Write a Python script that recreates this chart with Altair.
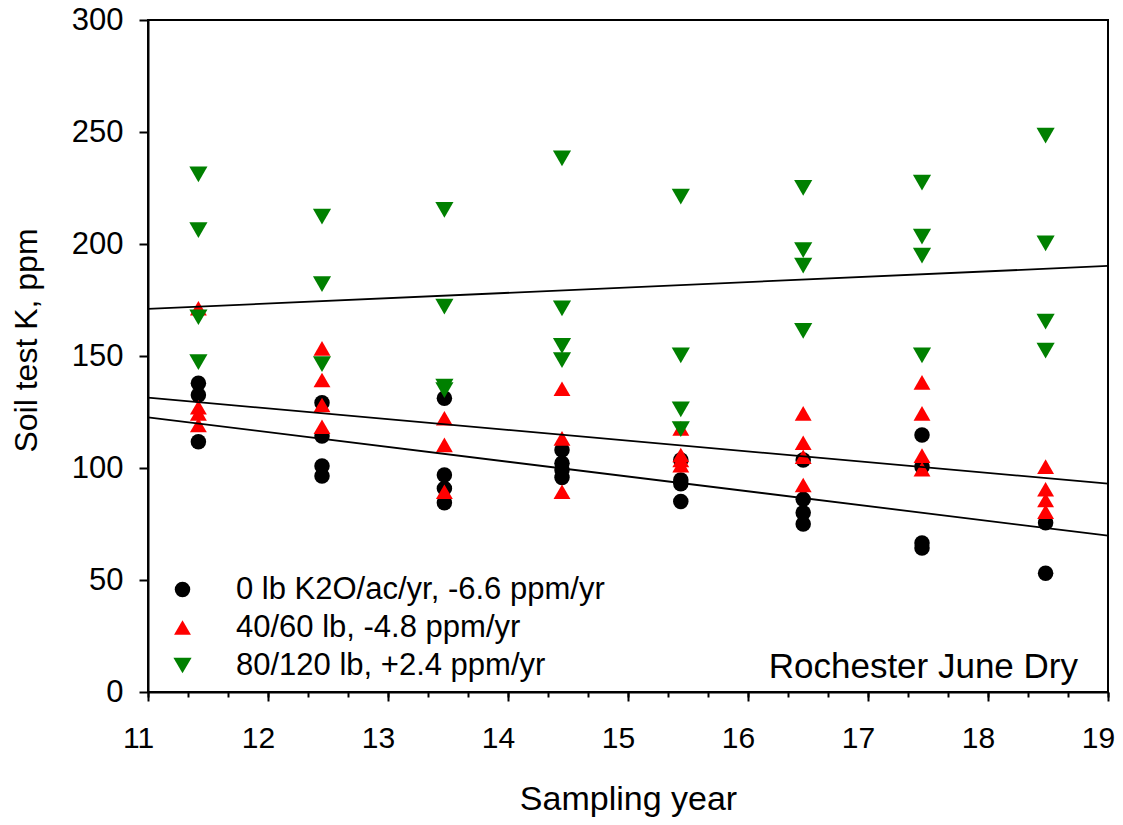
import altair as alt
import pandas as pd

FONT = "Liberation Sans"

# Sampling years (column positions on the x axis)
years = [11.42, 12.45, 13.47, 14.45, 15.44, 16.46, 17.45, 18.48]

# Soil test K (ppm) per plot, one inner list per sampling year
k_0lb = [
    [137.8, 132.6, 111.7],
    [129.1, 114.3, 100.9, 96.4],
    [131.1, 96.9, 90.9, 84.5],
    [108.0, 102.1, 99.1, 95.8],
    [103.6, 94.6, 93.0, 85.0],
    [103.6, 86.0, 80.0, 75.0],
    [114.7, 100.6, 66.5, 64.3],
    [75.6, 53.0],
]
k_40lb = [
    [171.3, 127.1, 124.4, 119.2],
    [153.4, 139.3, 128.1, 118.4],
    [122.2, 110.3, 89.4],
    [135.4, 113.2, 89.4],
    [117.7, 105.8, 103.6, 101.3],
    [124.4, 111.3, 105.0, 92.4],
    [138.2, 124.4, 105.5, 99.5],
    [100.6, 90.5, 85.7, 80.5],
]
k_80lb = [
    [231.1, 206.2, 167.3, 147.3],
    [212.2, 182.1, 146.4],
    [215.2, 172.0, 136.3, 134.8],
    [238.2, 171.3, 154.5, 148.2],
    [221.1, 150.3, 126.2, 117.4],
    [225.1, 197.3, 190.3, 161.2],
    [227.4, 203.3, 194.8, 150.3],
    [248.4, 200.3, 165.3, 152.4],
]

labels = ["0 lb K2O/ac/yr, -6.6 ppm/yr", "40/60 lb, -4.8 ppm/yr", "80/120 lb, +2.4 ppm/yr"]
colors = ["#000000", "#FF0000", "#008000"]
shapes = ["circle", "triangle-up", "triangle-down"]
sizes = [240, 330, 330]

# Linear trends: slope (ppm/yr) and fitted value at year 11
fit_slope = [-6.6, -4.8, 2.4]
fit_at_11 = [122.6, 131.4, 171.0]
fit_span = [11, 19]

major_years = list(range(11, 20))
minor_years = [round(11 + k / 3, 6) for k in range(25)]
k_ticks = [0, 50, 100, 150, 200, 250, 300]

rows = []
for lab, series in zip(labels, [k_0lb, k_40lb, k_80lb]):
    for yr, vals in zip(years, series):
        for v in vals:
            rows.append({"year": yr, "k": v, "trt": lab})
pts = pd.DataFrame(rows)

fit_rows = []
for lab, b, a in zip(labels, fit_slope, fit_at_11):
    for x in fit_span:
        fit_rows.append({"year": x, "k": a + b * (x - 11), "trt": lab})
fits = pd.DataFrame(fit_rows)

x_scale = alt.Scale(domain=[11, 19], nice=False, zero=False)
y_scale = alt.Scale(domain=[0, 300], nice=False)

x_axis = alt.Axis(
    orient="bottom",
    values=major_years,
    format="d",
    tickSize=9,
    labelFontSize=30,
    labelPadding=22,
    labelOffset=-10,
    labelOverlap=False,
    labelFlush=False,
    titleFontSize=34,
    titleFontWeight="normal",
    titleX=480,
    titleY=117,
    titleBaseline="alphabetic",
    titleAnchor="middle",
    titleAlign="center",
)
x_minor_axis = alt.Axis(
    orient="bottom",
    values=minor_years,
    tickSize=5,
    labels=False,
    domain=False,
    title=None,
)
y_axis = alt.Axis(
    values=k_ticks,
    tickSize=9,
    labelFontSize=31,
    labelPadding=16,
    titleFontSize=32,
    titleFontWeight="normal",
    titleX=-112,
    titleY=320,
    titleBaseline="alphabetic",
    titleAlign="center",
    titleAngle=-90,
)

legend = alt.Legend(
    title=None,
    orient="none",
    legendX=19,
    legendY=554,
    labelFontSize=31,
    labelFont=FONT,
    labelColor="black",
    labelLimit=0,
    symbolSize=250,
    symbolStrokeWidth=0,
    symbolOpacity=1,
    rowPadding=6,
    labelOffset=38,
    padding=0,
)

points = alt.Chart(pts).mark_point(filled=True, opacity=1, strokeWidth=0).encode(
    x=alt.X("year:Q", scale=x_scale, axis=x_axis, title="Sampling year"),
    y=alt.Y("k:Q", scale=y_scale, axis=y_axis, title="Soil test K, ppm"),
    color=alt.Color("trt:N", scale=alt.Scale(domain=labels, range=colors), legend=legend, sort=labels),
    shape=alt.Shape("trt:N", scale=alt.Scale(domain=labels, range=shapes), legend=legend, sort=labels),
    size=alt.Size("trt:O", scale=alt.Scale(domain=labels, range=sizes), legend=None),
)

trend = alt.Chart(fits).mark_line(color="black", strokeWidth=1.8).encode(
    x=alt.X("year:Q", scale=x_scale, axis=x_minor_axis),
    y=alt.Y("k:Q", scale=y_scale, axis=y_axis, title="Soil test K, ppm"),
    detail="trt:N",
)

site = alt.Chart(pd.DataFrame({"t": ["Rochester June Dry"]})).mark_text(
    align="right", baseline="alphabetic", fontSize=35, font=FONT, color="black"
).encode(x=alt.value(930), y=alt.value(658), text="t:N")

chart = (
    alt.layer(points, trend, site)
    .resolve_axis(x="independent")
    .properties(
        width=960,
        height=672,
        padding={"left": 148, "top": 20, "right": 15, "bottom": 133},
        autosize=alt.AutoSizeParams(type="none"),
        background="white",
    )
    .configure_view(stroke="black", strokeWidth=2)
    .configure_axis(
        domainColor="black",
        domainWidth=2,
        tickColor="black",
        tickWidth=2,
        labelColor="black",
        titleColor="black",
        labelFont=FONT,
        titleFont=FONT,
        grid=False,
    )
)

chart.save("out.html", embed_options={"renderer": "svg", "actions": False})
